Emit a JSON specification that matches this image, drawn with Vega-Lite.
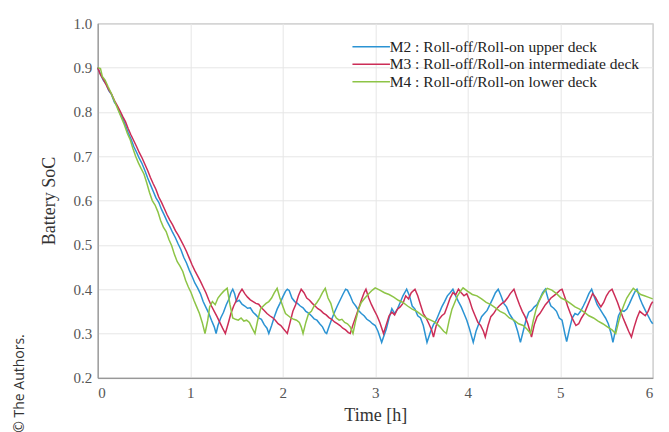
{
"$schema": "https://vega.github.io/schema/vega-lite/v6.json",
"width": 555, "height": 354.5,
"autosize": {"type": "none"},
"padding": {"left": 97.7, "top": 23.3, "right": 16.3, "bottom": 54.2},
"background": "white",
"title": {"text": "© The Authors.", "orient": "left", "anchor": "start", "font": "Open Sans", "fontSize": 14, "fontWeight": "normal", "color": "#333333", "offset": 14, "dx": -8},
"data": {"values": [
{"s":"M2","t":0,"v":0.9},{"s":"M2","t":0.03,"v":0.885},{"s":"M2","t":0.06,"v":0.872},{"s":"M2","t":0.09,"v":0.863},{"s":"M2","t":0.12,"v":0.848},{"s":"M2","t":0.15,"v":0.839},{"s":"M2","t":0.18,"v":0.822},{"s":"M2","t":0.21,"v":0.813},{"s":"M2","t":0.24,"v":0.797},{"s":"M2","t":0.27,"v":0.786},{"s":"M2","t":0.3,"v":0.77},{"s":"M2","t":0.33,"v":0.753},{"s":"M2","t":0.36,"v":0.739},{"s":"M2","t":0.39,"v":0.722},{"s":"M2","t":0.42,"v":0.709},{"s":"M2","t":0.45,"v":0.695},{"s":"M2","t":0.48,"v":0.683},{"s":"M2","t":0.51,"v":0.668},{"s":"M2","t":0.54,"v":0.651},{"s":"M2","t":0.57,"v":0.636},{"s":"M2","t":0.6,"v":0.621},{"s":"M2","t":0.63,"v":0.606},{"s":"M2","t":0.66,"v":0.596},{"s":"M2","t":0.69,"v":0.58},{"s":"M2","t":0.72,"v":0.567},{"s":"M2","t":0.75,"v":0.553},{"s":"M2","t":0.78,"v":0.541},{"s":"M2","t":0.81,"v":0.528},{"s":"M2","t":0.84,"v":0.516},{"s":"M2","t":0.87,"v":0.502},{"s":"M2","t":0.9,"v":0.489},{"s":"M2","t":0.93,"v":0.472},{"s":"M2","t":0.96,"v":0.459},{"s":"M2","t":0.99,"v":0.443},{"s":"M2","t":1.02,"v":0.429},{"s":"M2","t":1.05,"v":0.414},{"s":"M2","t":1.08,"v":0.403},{"s":"M2","t":1.11,"v":0.39},{"s":"M2","t":1.14,"v":0.372},{"s":"M2","t":1.17,"v":0.359},{"s":"M2","t":1.2,"v":0.346},{"s":"M2","t":1.23,"v":0.33},{"s":"M2","t":1.26,"v":0.315},{"s":"M2","t":1.28,"v":0.3},
{"s":"M2","t":1.3,"v":0.318},{"s":"M2","t":1.33,"v":0.335},{"s":"M2","t":1.36,"v":0.348},{"s":"M2","t":1.39,"v":0.365},{"s":"M2","t":1.42,"v":0.378},{"s":"M2","t":1.44,"v":0.392},{"s":"M2","t":1.46,"v":0.4},{"s":"M2","t":1.48,"v":0.39},{"s":"M2","t":1.5,"v":0.372},{"s":"M2","t":1.53,"v":0.375},{"s":"M2","t":1.56,"v":0.366},{"s":"M2","t":1.59,"v":0.362},{"s":"M2","t":1.62,"v":0.357},{"s":"M2","t":1.65,"v":0.358},{"s":"M2","t":1.68,"v":0.348},{"s":"M2","t":1.71,"v":0.342},{"s":"M2","t":1.74,"v":0.335},{"s":"M2","t":1.77,"v":0.332},{"s":"M2","t":1.8,"v":0.32},{"s":"M2","t":1.83,"v":0.312},{"s":"M2","t":1.85,"v":0.3},
{"s":"M2","t":1.88,"v":0.318},{"s":"M2","t":1.91,"v":0.338},{"s":"M2","t":1.94,"v":0.355},{"s":"M2","t":1.97,"v":0.368},{"s":"M2","t":2.0,"v":0.382},{"s":"M2","t":2.03,"v":0.395},{"s":"M2","t":2.05,"v":0.4},{"s":"M2","t":2.07,"v":0.397},{"s":"M2","t":2.1,"v":0.38},{"s":"M2","t":2.13,"v":0.372},{"s":"M2","t":2.16,"v":0.368},{"s":"M2","t":2.19,"v":0.362},{"s":"M2","t":2.22,"v":0.358},{"s":"M2","t":2.25,"v":0.35},{"s":"M2","t":2.28,"v":0.346},{"s":"M2","t":2.31,"v":0.34},{"s":"M2","t":2.34,"v":0.333},{"s":"M2","t":2.37,"v":0.33},{"s":"M2","t":2.4,"v":0.322},{"s":"M2","t":2.43,"v":0.315},{"s":"M2","t":2.46,"v":0.302},{"s":"M2","t":2.475,"v":0.3},
{"s":"M2","t":2.5,"v":0.315},{"s":"M2","t":2.53,"v":0.332},{"s":"M2","t":2.56,"v":0.348},{"s":"M2","t":2.59,"v":0.362},{"s":"M2","t":2.62,"v":0.375},{"s":"M2","t":2.65,"v":0.388},{"s":"M2","t":2.68,"v":0.4},{"s":"M2","t":2.7,"v":0.398},{"s":"M2","t":2.73,"v":0.385},{"s":"M2","t":2.76,"v":0.37},{"s":"M2","t":2.79,"v":0.362},{"s":"M2","t":2.82,"v":0.352},{"s":"M2","t":2.85,"v":0.345},{"s":"M2","t":2.88,"v":0.34},{"s":"M2","t":2.91,"v":0.332},{"s":"M2","t":2.94,"v":0.328},{"s":"M2","t":2.97,"v":0.322},{"s":"M2","t":3.0,"v":0.318},{"s":"M2","t":3.03,"v":0.305},{"s":"M2","t":3.07,"v":0.28},
{"s":"M2","t":3.12,"v":0.31},{"s":"M2","t":3.15,"v":0.335},{"s":"M2","t":3.18,"v":0.356},{"s":"M2","t":3.21,"v":0.345},{"s":"M2","t":3.24,"v":0.355},{"s":"M2","t":3.27,"v":0.37},{"s":"M2","t":3.3,"v":0.385},{"s":"M2","t":3.34,"v":0.4},{"s":"M2","t":3.37,"v":0.385},{"s":"M2","t":3.4,"v":0.362},{"s":"M2","t":3.43,"v":0.355},{"s":"M2","t":3.46,"v":0.34},{"s":"M2","t":3.49,"v":0.335},{"s":"M2","t":3.52,"v":0.318},{"s":"M2","t":3.56,"v":0.28},
{"s":"M2","t":3.6,"v":0.305},{"s":"M2","t":3.63,"v":0.32},{"s":"M2","t":3.66,"v":0.33},{"s":"M2","t":3.69,"v":0.345},{"s":"M2","t":3.72,"v":0.36},{"s":"M2","t":3.75,"v":0.372},{"s":"M2","t":3.78,"v":0.385},{"s":"M2","t":3.81,"v":0.392},{"s":"M2","t":3.84,"v":0.4},{"s":"M2","t":3.87,"v":0.385},{"s":"M2","t":3.9,"v":0.372},{"s":"M2","t":3.93,"v":0.36},{"s":"M2","t":3.96,"v":0.345},{"s":"M2","t":3.99,"v":0.33},{"s":"M2","t":4.02,"v":0.31},{"s":"M2","t":4.06,"v":0.28},
{"s":"M2","t":4.09,"v":0.305},{"s":"M2","t":4.12,"v":0.322},{"s":"M2","t":4.15,"v":0.338},{"s":"M2","t":4.18,"v":0.345},{"s":"M2","t":4.21,"v":0.352},{"s":"M2","t":4.24,"v":0.365},{"s":"M2","t":4.27,"v":0.378},{"s":"M2","t":4.3,"v":0.392},{"s":"M2","t":4.33,"v":0.4},{"s":"M2","t":4.36,"v":0.385},{"s":"M2","t":4.39,"v":0.368},{"s":"M2","t":4.42,"v":0.36},{"s":"M2","t":4.45,"v":0.345},{"s":"M2","t":4.48,"v":0.335},{"s":"M2","t":4.51,"v":0.325},{"s":"M2","t":4.54,"v":0.305},{"s":"M2","t":4.57,"v":0.28},
{"s":"M2","t":4.6,"v":0.305},{"s":"M2","t":4.63,"v":0.33},{"s":"M2","t":4.66,"v":0.348},{"s":"M2","t":4.69,"v":0.352},{"s":"M2","t":4.72,"v":0.36},{"s":"M2","t":4.75,"v":0.365},{"s":"M2","t":4.78,"v":0.378},{"s":"M2","t":4.81,"v":0.392},{"s":"M2","t":4.84,"v":0.4},{"s":"M2","t":4.87,"v":0.378},{"s":"M2","t":4.9,"v":0.362},{"s":"M2","t":4.93,"v":0.357},{"s":"M2","t":4.96,"v":0.35},{"s":"M2","t":4.99,"v":0.335},{"s":"M2","t":5.02,"v":0.33},{"s":"M2","t":5.05,"v":0.3},{"s":"M2","t":5.07,"v":0.282},
{"s":"M2","t":5.1,"v":0.31},{"s":"M2","t":5.13,"v":0.335},{"s":"M2","t":5.16,"v":0.345},{"s":"M2","t":5.19,"v":0.342},{"s":"M2","t":5.22,"v":0.35},{"s":"M2","t":5.25,"v":0.362},{"s":"M2","t":5.28,"v":0.375},{"s":"M2","t":5.31,"v":0.39},{"s":"M2","t":5.34,"v":0.4},{"s":"M2","t":5.37,"v":0.382},{"s":"M2","t":5.4,"v":0.365},{"s":"M2","t":5.43,"v":0.355},{"s":"M2","t":5.46,"v":0.345},{"s":"M2","t":5.49,"v":0.335},{"s":"M2","t":5.52,"v":0.322},{"s":"M2","t":5.55,"v":0.3},{"s":"M2","t":5.57,"v":0.28},
{"s":"M2","t":5.6,"v":0.31},{"s":"M2","t":5.63,"v":0.34},{"s":"M2","t":5.66,"v":0.352},{"s":"M2","t":5.69,"v":0.35},{"s":"M2","t":5.72,"v":0.355},{"s":"M2","t":5.75,"v":0.368},{"s":"M2","t":5.78,"v":0.382},{"s":"M2","t":5.81,"v":0.395},{"s":"M2","t":5.83,"v":0.4},{"s":"M2","t":5.86,"v":0.38},{"s":"M2","t":5.89,"v":0.365},{"s":"M2","t":5.92,"v":0.352},{"s":"M2","t":5.95,"v":0.34},{"s":"M2","t":5.98,"v":0.328},{"s":"M2","t":6.0,"v":0.322},

{"s":"M3","t":0,"v":0.9},{"s":"M3","t":0.03,"v":0.884},{"s":"M3","t":0.06,"v":0.874},{"s":"M3","t":0.09,"v":0.862},{"s":"M3","t":0.12,"v":0.85},{"s":"M3","t":0.15,"v":0.84},{"s":"M3","t":0.18,"v":0.826},{"s":"M3","t":0.21,"v":0.815},{"s":"M3","t":0.24,"v":0.803},{"s":"M3","t":0.27,"v":0.79},{"s":"M3","t":0.3,"v":0.778},{"s":"M3","t":0.33,"v":0.762},{"s":"M3","t":0.36,"v":0.748},{"s":"M3","t":0.39,"v":0.735},{"s":"M3","t":0.42,"v":0.722},{"s":"M3","t":0.45,"v":0.708},{"s":"M3","t":0.48,"v":0.696},{"s":"M3","t":0.51,"v":0.682},{"s":"M3","t":0.54,"v":0.668},{"s":"M3","t":0.57,"v":0.652},{"s":"M3","t":0.6,"v":0.638},{"s":"M3","t":0.63,"v":0.625},{"s":"M3","t":0.66,"v":0.608},{"s":"M3","t":0.69,"v":0.596},{"s":"M3","t":0.72,"v":0.582},{"s":"M3","t":0.75,"v":0.568},{"s":"M3","t":0.78,"v":0.556},{"s":"M3","t":0.81,"v":0.545},{"s":"M3","t":0.84,"v":0.532},{"s":"M3","t":0.87,"v":0.522},{"s":"M3","t":0.9,"v":0.51},{"s":"M3","t":0.93,"v":0.498},{"s":"M3","t":0.96,"v":0.485},{"s":"M3","t":0.99,"v":0.47},{"s":"M3","t":1.02,"v":0.455},{"s":"M3","t":1.05,"v":0.442},{"s":"M3","t":1.08,"v":0.43},{"s":"M3","t":1.11,"v":0.418},{"s":"M3","t":1.14,"v":0.405},{"s":"M3","t":1.17,"v":0.392},{"s":"M3","t":1.2,"v":0.376},{"s":"M3","t":1.23,"v":0.362},{"s":"M3","t":1.26,"v":0.35},{"s":"M3","t":1.29,"v":0.338},{"s":"M3","t":1.32,"v":0.325},{"s":"M3","t":1.35,"v":0.312},{"s":"M3","t":1.38,"v":0.3},
{"s":"M3","t":1.41,"v":0.322},{"s":"M3","t":1.44,"v":0.345},{"s":"M3","t":1.47,"v":0.362},{"s":"M3","t":1.5,"v":0.375},{"s":"M3","t":1.53,"v":0.39},{"s":"M3","t":1.56,"v":0.4},{"s":"M3","t":1.59,"v":0.39},{"s":"M3","t":1.62,"v":0.382},{"s":"M3","t":1.65,"v":0.376},{"s":"M3","t":1.68,"v":0.372},{"s":"M3","t":1.71,"v":0.368},{"s":"M3","t":1.74,"v":0.366},{"s":"M3","t":1.77,"v":0.358},{"s":"M3","t":1.8,"v":0.352},{"s":"M3","t":1.83,"v":0.345},{"s":"M3","t":1.86,"v":0.34},{"s":"M3","t":1.89,"v":0.336},{"s":"M3","t":1.92,"v":0.33},{"s":"M3","t":1.95,"v":0.322},{"s":"M3","t":1.98,"v":0.318},{"s":"M3","t":2.01,"v":0.31},{"s":"M3","t":2.05,"v":0.3},
{"s":"M3","t":2.08,"v":0.325},{"s":"M3","t":2.11,"v":0.35},{"s":"M3","t":2.14,"v":0.365},{"s":"M3","t":2.17,"v":0.385},{"s":"M3","t":2.2,"v":0.4},{"s":"M3","t":2.23,"v":0.392},{"s":"M3","t":2.26,"v":0.38},{"s":"M3","t":2.29,"v":0.375},{"s":"M3","t":2.32,"v":0.368},{"s":"M3","t":2.35,"v":0.362},{"s":"M3","t":2.38,"v":0.356},{"s":"M3","t":2.41,"v":0.352},{"s":"M3","t":2.44,"v":0.346},{"s":"M3","t":2.47,"v":0.342},{"s":"M3","t":2.5,"v":0.336},{"s":"M3","t":2.53,"v":0.332},{"s":"M3","t":2.56,"v":0.326},{"s":"M3","t":2.59,"v":0.322},{"s":"M3","t":2.62,"v":0.318},{"s":"M3","t":2.65,"v":0.312},{"s":"M3","t":2.68,"v":0.308},{"s":"M3","t":2.71,"v":0.302},{"s":"M3","t":2.73,"v":0.3},
{"s":"M3","t":2.76,"v":0.32},{"s":"M3","t":2.79,"v":0.338},{"s":"M3","t":2.82,"v":0.356},{"s":"M3","t":2.85,"v":0.375},{"s":"M3","t":2.88,"v":0.392},{"s":"M3","t":2.9,"v":0.4},{"s":"M3","t":2.93,"v":0.38},{"s":"M3","t":2.96,"v":0.365},{"s":"M3","t":2.99,"v":0.352},{"s":"M3","t":3.02,"v":0.34},{"s":"M3","t":3.05,"v":0.325},{"s":"M3","t":3.09,"v":0.3},
{"s":"M3","t":3.12,"v":0.32},{"s":"M3","t":3.15,"v":0.34},{"s":"M3","t":3.18,"v":0.348},{"s":"M3","t":3.21,"v":0.342},{"s":"M3","t":3.24,"v":0.355},{"s":"M3","t":3.27,"v":0.36},{"s":"M3","t":3.3,"v":0.368},{"s":"M3","t":3.33,"v":0.385},{"s":"M3","t":3.36,"v":0.378},{"s":"M3","t":3.39,"v":0.392},{"s":"M3","t":3.43,"v":0.4},{"s":"M3","t":3.46,"v":0.385},{"s":"M3","t":3.49,"v":0.365},{"s":"M3","t":3.52,"v":0.345},{"s":"M3","t":3.55,"v":0.335},{"s":"M3","t":3.58,"v":0.322},{"s":"M3","t":3.61,"v":0.308},{"s":"M3","t":3.63,"v":0.292},
{"s":"M3","t":3.66,"v":0.318},{"s":"M3","t":3.69,"v":0.332},{"s":"M3","t":3.72,"v":0.34},{"s":"M3","t":3.75,"v":0.345},{"s":"M3","t":3.78,"v":0.362},{"s":"M3","t":3.81,"v":0.38},{"s":"M3","t":3.84,"v":0.392},{"s":"M3","t":3.87,"v":0.387},{"s":"M3","t":3.9,"v":0.4},{"s":"M3","t":3.93,"v":0.392},{"s":"M3","t":3.96,"v":0.385},{"s":"M3","t":3.99,"v":0.39},{"s":"M3","t":4.02,"v":0.375},{"s":"M3","t":4.05,"v":0.355},{"s":"M3","t":4.08,"v":0.34},{"s":"M3","t":4.11,"v":0.325},{"s":"M3","t":4.14,"v":0.318},{"s":"M3","t":4.17,"v":0.305},{"s":"M3","t":4.19,"v":0.292},
{"s":"M3","t":4.22,"v":0.318},{"s":"M3","t":4.25,"v":0.338},{"s":"M3","t":4.28,"v":0.345},{"s":"M3","t":4.31,"v":0.355},{"s":"M3","t":4.34,"v":0.362},{"s":"M3","t":4.37,"v":0.368},{"s":"M3","t":4.4,"v":0.372},{"s":"M3","t":4.43,"v":0.38},{"s":"M3","t":4.46,"v":0.39},{"s":"M3","t":4.5,"v":0.4},{"s":"M3","t":4.53,"v":0.382},{"s":"M3","t":4.56,"v":0.365},{"s":"M3","t":4.59,"v":0.35},{"s":"M3","t":4.62,"v":0.338},{"s":"M3","t":4.65,"v":0.322},{"s":"M3","t":4.69,"v":0.292},
{"s":"M3","t":4.72,"v":0.32},{"s":"M3","t":4.75,"v":0.338},{"s":"M3","t":4.78,"v":0.345},{"s":"M3","t":4.81,"v":0.355},{"s":"M3","t":4.84,"v":0.365},{"s":"M3","t":4.87,"v":0.372},{"s":"M3","t":4.9,"v":0.38},{"s":"M3","t":4.93,"v":0.385},{"s":"M3","t":4.96,"v":0.39},{"s":"M3","t":5.0,"v":0.398},{"s":"M3","t":5.02,"v":0.4},{"s":"M3","t":5.05,"v":0.382},{"s":"M3","t":5.08,"v":0.362},{"s":"M3","t":5.11,"v":0.345},{"s":"M3","t":5.14,"v":0.33},{"s":"M3","t":5.17,"v":0.318},{"s":"M3","t":5.2,"v":0.322},{"s":"M3","t":5.23,"v":0.335},{"s":"M3","t":5.26,"v":0.345},{"s":"M3","t":5.29,"v":0.36},{"s":"M3","t":5.32,"v":0.375},{"s":"M3","t":5.35,"v":0.39},{"s":"M3","t":5.38,"v":0.382},{"s":"M3","t":5.41,"v":0.37},{"s":"M3","t":5.44,"v":0.36},{"s":"M3","t":5.47,"v":0.37},{"s":"M3","t":5.5,"v":0.385},{"s":"M3","t":5.53,"v":0.395},{"s":"M3","t":5.56,"v":0.4},{"s":"M3","t":5.59,"v":0.385},{"s":"M3","t":5.62,"v":0.37},{"s":"M3","t":5.65,"v":0.352},{"s":"M3","t":5.68,"v":0.335},{"s":"M3","t":5.71,"v":0.32},{"s":"M3","t":5.74,"v":0.305},{"s":"M3","t":5.77,"v":0.292},{"s":"M3","t":5.8,"v":0.315},{"s":"M3","t":5.83,"v":0.335},{"s":"M3","t":5.86,"v":0.35},{"s":"M3","t":5.89,"v":0.345},{"s":"M3","t":5.92,"v":0.34},{"s":"M3","t":5.95,"v":0.35},{"s":"M3","t":5.98,"v":0.365},{"s":"M3","t":6.0,"v":0.372},

{"s":"M4","t":0,"v":0.9},{"s":"M4","t":0.03,"v":0.898},{"s":"M4","t":0.05,"v":0.88},{"s":"M4","t":0.08,"v":0.872},{"s":"M4","t":0.11,"v":0.858},{"s":"M4","t":0.14,"v":0.845},{"s":"M4","t":0.17,"v":0.83},{"s":"M4","t":0.2,"v":0.815},{"s":"M4","t":0.23,"v":0.8},{"s":"M4","t":0.26,"v":0.785},{"s":"M4","t":0.29,"v":0.77},{"s":"M4","t":0.32,"v":0.752},{"s":"M4","t":0.35,"v":0.738},{"s":"M4","t":0.38,"v":0.718},{"s":"M4","t":0.41,"v":0.7},{"s":"M4","t":0.44,"v":0.685},{"s":"M4","t":0.47,"v":0.672},{"s":"M4","t":0.5,"v":0.66},{"s":"M4","t":0.53,"v":0.64},{"s":"M4","t":0.56,"v":0.618},{"s":"M4","t":0.59,"v":0.6},{"s":"M4","t":0.62,"v":0.59},{"s":"M4","t":0.65,"v":0.575},{"s":"M4","t":0.68,"v":0.555},{"s":"M4","t":0.71,"v":0.54},{"s":"M4","t":0.74,"v":0.53},{"s":"M4","t":0.77,"v":0.512},{"s":"M4","t":0.8,"v":0.498},{"s":"M4","t":0.83,"v":0.478},{"s":"M4","t":0.86,"v":0.462},{"s":"M4","t":0.89,"v":0.452},{"s":"M4","t":0.92,"v":0.44},{"s":"M4","t":0.95,"v":0.42},{"s":"M4","t":0.98,"v":0.405},{"s":"M4","t":1.01,"v":0.392},{"s":"M4","t":1.04,"v":0.375},{"s":"M4","t":1.07,"v":0.36},{"s":"M4","t":1.1,"v":0.345},{"s":"M4","t":1.13,"v":0.325},{"s":"M4","t":1.16,"v":0.3},
{"s":"M4","t":1.19,"v":0.33},{"s":"M4","t":1.21,"v":0.36},{"s":"M4","t":1.24,"v":0.372},{"s":"M4","t":1.27,"v":0.365},{"s":"M4","t":1.3,"v":0.38},{"s":"M4","t":1.33,"v":0.388},{"s":"M4","t":1.36,"v":0.395},{"s":"M4","t":1.4,"v":0.402},{"s":"M4","t":1.43,"v":0.365},{"s":"M4","t":1.46,"v":0.335},{"s":"M4","t":1.49,"v":0.332},{"s":"M4","t":1.52,"v":0.33},{"s":"M4","t":1.55,"v":0.335},{"s":"M4","t":1.58,"v":0.328},{"s":"M4","t":1.61,"v":0.33},{"s":"M4","t":1.64,"v":0.325},{"s":"M4","t":1.67,"v":0.312},{"s":"M4","t":1.7,"v":0.3},
{"s":"M4","t":1.73,"v":0.33},{"s":"M4","t":1.76,"v":0.355},{"s":"M4","t":1.79,"v":0.362},{"s":"M4","t":1.82,"v":0.368},{"s":"M4","t":1.85,"v":0.372},{"s":"M4","t":1.88,"v":0.38},{"s":"M4","t":1.91,"v":0.392},{"s":"M4","t":1.94,"v":0.402},{"s":"M4","t":1.97,"v":0.38},{"s":"M4","t":2.0,"v":0.362},{"s":"M4","t":2.03,"v":0.345},{"s":"M4","t":2.06,"v":0.34},{"s":"M4","t":2.09,"v":0.335},{"s":"M4","t":2.12,"v":0.332},{"s":"M4","t":2.15,"v":0.33},{"s":"M4","t":2.18,"v":0.325},{"s":"M4","t":2.2,"v":0.315},{"s":"M4","t":2.22,"v":0.3},
{"s":"M4","t":2.25,"v":0.325},{"s":"M4","t":2.28,"v":0.345},{"s":"M4","t":2.31,"v":0.35},{"s":"M4","t":2.34,"v":0.362},{"s":"M4","t":2.37,"v":0.37},{"s":"M4","t":2.4,"v":0.38},{"s":"M4","t":2.43,"v":0.392},{"s":"M4","t":2.46,"v":0.402},{"s":"M4","t":2.49,"v":0.38},{"s":"M4","t":2.52,"v":0.368},{"s":"M4","t":2.55,"v":0.345},{"s":"M4","t":2.58,"v":0.335},{"s":"M4","t":2.61,"v":0.33},{"s":"M4","t":2.64,"v":0.332},{"s":"M4","t":2.67,"v":0.325},{"s":"M4","t":2.7,"v":0.322},{"s":"M4","t":2.73,"v":0.315},{"s":"M4","t":2.76,"v":0.3},
{"s":"M4","t":2.79,"v":0.33},{"s":"M4","t":2.82,"v":0.355},{"s":"M4","t":2.85,"v":0.37},{"s":"M4","t":2.88,"v":0.378},{"s":"M4","t":2.91,"v":0.385},{"s":"M4","t":2.94,"v":0.392},{"s":"M4","t":2.97,"v":0.398},{"s":"M4","t":3.0,"v":0.403},{"s":"M4","t":3.05,"v":0.398},{"s":"M4","t":3.1,"v":0.392},{"s":"M4","t":3.15,"v":0.388},{"s":"M4","t":3.2,"v":0.382},{"s":"M4","t":3.25,"v":0.375},{"s":"M4","t":3.3,"v":0.37},{"s":"M4","t":3.35,"v":0.362},{"s":"M4","t":3.4,"v":0.355},{"s":"M4","t":3.45,"v":0.35},{"s":"M4","t":3.5,"v":0.342},{"s":"M4","t":3.55,"v":0.335},{"s":"M4","t":3.6,"v":0.33},{"s":"M4","t":3.65,"v":0.325},{"s":"M4","t":3.7,"v":0.315},{"s":"M4","t":3.74,"v":0.305},{"s":"M4","t":3.77,"v":0.3},
{"s":"M4","t":3.8,"v":0.33},{"s":"M4","t":3.83,"v":0.355},{"s":"M4","t":3.86,"v":0.37},{"s":"M4","t":3.89,"v":0.385},{"s":"M4","t":3.92,"v":0.395},{"s":"M4","t":3.95,"v":0.403},{"s":"M4","t":4.0,"v":0.395},{"s":"M4","t":4.05,"v":0.388},{"s":"M4","t":4.1,"v":0.385},{"s":"M4","t":4.15,"v":0.378},{"s":"M4","t":4.2,"v":0.37},{"s":"M4","t":4.25,"v":0.365},{"s":"M4","t":4.3,"v":0.358},{"s":"M4","t":4.35,"v":0.35},{"s":"M4","t":4.4,"v":0.345},{"s":"M4","t":4.45,"v":0.335},{"s":"M4","t":4.5,"v":0.33},{"s":"M4","t":4.55,"v":0.322},{"s":"M4","t":4.6,"v":0.318},{"s":"M4","t":4.64,"v":0.31},{"s":"M4","t":4.68,"v":0.3},
{"s":"M4","t":4.71,"v":0.33},{"s":"M4","t":4.74,"v":0.355},{"s":"M4","t":4.77,"v":0.372},{"s":"M4","t":4.8,"v":0.385},{"s":"M4","t":4.83,"v":0.395},{"s":"M4","t":4.86,"v":0.402},{"s":"M4","t":4.91,"v":0.398},{"s":"M4","t":4.96,"v":0.39},{"s":"M4","t":5.01,"v":0.38},{"s":"M4","t":5.06,"v":0.375},{"s":"M4","t":5.11,"v":0.368},{"s":"M4","t":5.16,"v":0.36},{"s":"M4","t":5.21,"v":0.355},{"s":"M4","t":5.26,"v":0.348},{"s":"M4","t":5.31,"v":0.34},{"s":"M4","t":5.36,"v":0.335},{"s":"M4","t":5.41,"v":0.328},{"s":"M4","t":5.46,"v":0.322},{"s":"M4","t":5.51,"v":0.315},{"s":"M4","t":5.56,"v":0.308},{"s":"M4","t":5.6,"v":0.3},
{"s":"M4","t":5.63,"v":0.325},{"s":"M4","t":5.66,"v":0.348},{"s":"M4","t":5.69,"v":0.365},{"s":"M4","t":5.72,"v":0.38},{"s":"M4","t":5.75,"v":0.39},{"s":"M4","t":5.79,"v":0.402},{"s":"M4","t":5.83,"v":0.395},{"s":"M4","t":5.87,"v":0.388},{"s":"M4","t":5.91,"v":0.385},{"s":"M4","t":5.95,"v":0.382},{"s":"M4","t":6.0,"v":0.378}
]},
"mark": {"type": "line", "strokeWidth": 1.5},
"encoding": {
  "x": {"field": "t", "type": "quantitative", "scale": {"domain": [0, 6], "nice": false},
        "axis": {"values": [0, 1, 2, 3, 4, 5, 6], "title": "Time [h]", "labelPadding": 8, "titlePadding": 6, "labelFont": "Liberation Serif", "labelFontSize": 15}},
  "y": {"field": "v", "type": "quantitative", "scale": {"domain": [0.2, 1.0], "nice": false, "zero": false},
        "axis": {"values": [0.2, 0.3, 0.4, 0.5, 0.6, 0.7, 0.8, 0.9, 1.0], "format": ".1f", "title": "Battery SoC", "labelPadding": 6, "titlePadding": 14, "labelFont": "Liberation Serif", "labelFontSize": 15}},
  "color": {"field": "s", "type": "nominal",
        "scale": {"domain": ["M2", "M3", "M4"], "range": ["#2b93d3", "#cc2d57", "#8dc446"]},
        "legend": {"orient": "none", "legendX": 265, "legendY": 15, "title": null, "symbolType": "M-2.5,0H2.5", "symbolSize": 225, "symbolStrokeWidth": 1.5, "symbolFillColor": "transparent", "labelFont": "Liberation Serif", "labelFontSize": 15.5, "labelColor": "#222222", "labelOffset": 10, "labelLimit": 400, "rowPadding": 0.5,
          "labelExpr": "datum.label == 'M2' ? 'M2 : Roll-off/Roll-on upper deck' : datum.label == 'M3' ? 'M3 : Roll-off/Roll-on intermediate deck' : 'M4 : Roll-off/Roll-on lower deck'"}}
},
"config": {
  "view": {"stroke": "#8a8a8a", "strokeWidth": 1},
  "style": {"guide-label": {"font": "Liberation Serif"}},
  "axis": {"labelFont": "Liberation Serif", "labelFontSize": 15, "labelColor": "#555555", "titleFont": "Liberation Serif", "titleFontSize": 18, "titleFontWeight": "normal", "titleColor": "#333333", "domainColor": "#8a8a8a", "gridColor": "#e6e6e6", "ticks": false}
}
}
